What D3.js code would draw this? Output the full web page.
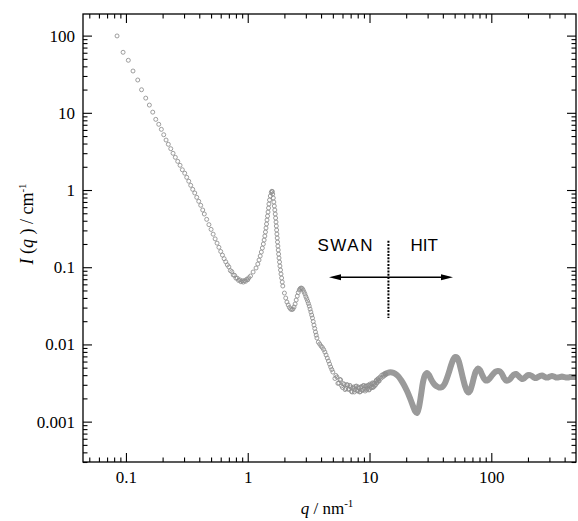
<!DOCTYPE html>
<html>
<head>
<meta charset="utf-8">
<script src="https://cdnjs.cloudflare.com/ajax/libs/d3/7.8.5/d3.min.js"></script>
<style>
  body { margin: 0; background: #fff; }
  svg { display: block; }
</style>
</head>
<body>
<div id="chart"></div>
<script>

// SWAN data (open circles), q in nm^-1, I in cm^-1
const qSwan = [
  // power-law descent
  0.0845, 0.0947, 0.1046, 0.1143, 0.125, 0.1343, 0.1454, 0.1557, 0.166, 0.1757,
  0.1859, 0.1953, 0.2043, 0.2135, 0.2229, 0.2333, 0.2436, 0.2544, 0.2662, 0.2781,
  0.2904, 0.3039, 0.3156, 0.3279, 0.3404, 0.3535, 0.3672, 0.3814, 0.3961, 0.4112, 0.427,
  // down into the minimum near q = 0.9
  0.44, 0.46, 0.48, 0.50, 0.52, 0.54, 0.56, 0.58, 0.60, 0.62, 0.64, 0.66, 0.68, 0.70, 0.72,
  0.74, 0.76, 0.78, 0.80, 0.82, 0.84, 0.86, 0.88, 0.90, 0.92, 0.94, 0.96, 0.98, 1.00, 1.02,
  // first peak, rising side
  1.054, 1.107, 1.170, 1.210, 1.238, 1.266, 1.293, 1.318, 1.343, 1.364, 1.382, 1.398,
  1.413, 1.427, 1.440, 1.454, 1.468, 1.482, 1.493, 1.510, 1.533, 1.562, 1.578, 1.589,
  // first peak, falling side
  1.604, 1.622, 1.638, 1.653, 1.669, 1.682, 1.694, 1.707, 1.717, 1.727, 1.736, 1.746,
  1.756, 1.769, 1.780, 1.793, 1.807, 1.824, 1.838, 1.859, 1.876, 1.898, 1.920, 1.941,
  2.001, 2.051, 2.098, 2.150, 2.200, 2.250, 2.302,
  // second peak and descent
  2.35, 2.40, 2.45, 2.50, 2.55, 2.60, 2.65, 2.70, 2.75, 2.80, 2.85, 2.90, 2.95, 3.00,
  3.05, 3.10, 3.15, 3.20, 3.25, 3.30, 3.35, 3.40, 3.45, 3.50, 3.55, 3.60, 3.65, 3.70,
  3.80, 3.90, 4.00, 4.10, 4.20, 4.30, 4.40, 4.50, 4.60, 4.70, 4.80, 4.90,
  // noisy plateau
  5.0, 5.2, 5.4, 5.6, 5.8, 6.0, 6.2, 6.4, 6.6, 6.8, 7.0, 7.2, 7.4, 7.6, 7.8, 8.0,
  8.2, 8.4, 8.6, 8.8, 9.0, 9.2, 9.4, 9.6, 9.8, 10.0, 10.2, 10.4, 10.6, 10.8, 11.0,
  11.2, 11.4, 11.6, 11.8, 12.0, 12.2, 12.4, 12.6, 12.8, 13.0, 13.2, 13.4, 13.6,
  5.3, 5.5, 5.7, 5.9, 6.1, 6.3, 6.5, 6.7, 6.9, 7.1, 7.3, 7.5, 7.7, 7.9, 8.1, 8.3, 8.5,
  8.7, 8.9, 9.1, 9.3, 9.5, 9.7, 9.9, 10.1, 10.3, 10.5, 10.7, 10.9, 11.1, 11.3, 11.5, 11.7, 11.9
];
const iSwan = [
  99, 60.8, 47.9, 34.8, 26.6, 19.9, 15.5, 12.6, 10.2, 8.23,
  7.10, 6.11, 5.20, 4.44, 3.91, 3.43, 2.99, 2.65, 2.35, 2.09,
  1.83, 1.65, 1.46, 1.30, 1.15, 1.02, 0.915, 0.804, 0.714, 0.634, 0.551,
  0.489, 0.417, 0.356, 0.309, 0.268, 0.233, 0.205, 0.181, 0.160, 0.1435, 0.129, 0.1175, 0.1074, 0.1010, 0.0905,
  0.0875, 0.0795, 0.0785, 0.0722, 0.0722, 0.0675, 0.0686, 0.0648, 0.0668, 0.0642, 0.0672, 0.0658, 0.0698, 0.0688, 0.0730,
  0.0769, 0.0867, 0.0977, 0.1100, 0.1240, 0.1397, 0.1573, 0.1772, 0.1997, 0.2251, 0.2535, 0.2858,
  0.3220, 0.3628, 0.4089, 0.4605, 0.5188, 0.5845, 0.6588, 0.7422, 0.8363, 0.9282, 0.962, 0.957,
  0.887, 0.788, 0.699, 0.6205, 0.551, 0.489, 0.434, 0.385, 0.342, 0.303, 0.269, 0.239,
  0.212, 0.188, 0.167, 0.148, 0.1316, 0.1168, 0.1036, 0.0920, 0.0817, 0.0725, 0.0643, 0.0571,
  0.0463, 0.0399, 0.0354, 0.0324, 0.0301, 0.0287, 0.0283,
  0.0287, 0.0305, 0.0334, 0.0376, 0.0423, 0.0470, 0.0507, 0.0530, 0.0538, 0.0530, 0.0507, 0.0477, 0.0450, 0.0417,
  0.0391, 0.0365, 0.0339, 0.0314, 0.0287, 0.0263, 0.0240, 0.0220, 0.0198, 0.0178, 0.0161, 0.0145, 0.0132, 0.0121,
  0.0107, 0.0101, 0.00953, 0.00912, 0.00859, 0.00797, 0.00729, 0.00666, 0.00610, 0.00557, 0.00510, 0.00473,
  0.00439, 0.00362, 0.00378, 0.00316, 0.00346, 0.00277, 0.00302, 0.00268, 0.00298, 0.00264, 0.00281, 0.00242, 0.00281, 0.00260, 0.00289, 0.00249,
  0.00272, 0.00245, 0.00285, 0.00260, 0.00291, 0.00249, 0.00287, 0.00269, 0.00298, 0.00263, 0.00294, 0.00277, 0.00318, 0.00283, 0.00316,
  0.00302, 0.00346, 0.00326, 0.00362, 0.00336, 0.00378, 0.00364, 0.00399, 0.00378, 0.00410, 0.00391, 0.00420, 0.00406,
  0.00396, 0.00313, 0.00353, 0.00291, 0.00311, 0.00260, 0.00302, 0.00262, 0.00295, 0.00247, 0.00272, 0.00242, 0.00285, 0.00253, 0.00281, 0.00242, 0.00278,
  0.00253, 0.00294, 0.00263, 0.00290, 0.00257, 0.00292, 0.00257, 0.00307, 0.00275, 0.00310, 0.00277, 0.00313, 0.00293, 0.00336, 0.00316, 0.00351, 0.00341
];

// HIT data (dense, reads as a thick grey band)
const qHit = [
  13.66, 14.46, 15.30, 16.19, 17.14, 18.14, 19.20, 20.32, 21.50, 22.76,
  23.64, 24.55, 25.49, 26.48, 27.50, 28.56, 29.66, 30.80, 31.98, 33.21,
  34.49, 35.83, 37.21, 38.64, 40.13, 41.68, 43.28, 44.95, 46.68, 48.48,
  50.35, 52.29, 54.30, 56.39, 58.57, 60.82, 63.17, 65.0, 66.87, 69.43,
  72.11, 74.89, 77.77, 80.77, 83.88, 87.11, 90.47, 93.96, 97.56, 101.3,
  105.2, 109.3, 113.5, 117.9, 122.4, 127.2, 132.0, 137.1, 142.4, 147.9,
  153.6, 159.5, 165.7, 172.0, 178.7, 185.6, 192.7, 200.1, 207.8, 215.9,
  224.2, 232.8, 241.8, 251.1, 260.8, 270.8, 281.2, 292.1, 303.3, 315.0,
  327.2, 339.7, 352.8, 366.4, 380.6, 395.3, 410.5, 426.3, 442.7, 459.9,
  477.5, 493.2
];
const iHit = [
  0.00420, 0.00433, 0.00433, 0.00420, 0.00390, 0.00346, 0.00298, 0.00249, 0.00202, 0.00159,
  0.00137, 0.00129, 0.00155, 0.00221, 0.00326, 0.00401, 0.00426, 0.00401, 0.00356, 0.00321,
  0.00298, 0.00285, 0.00277, 0.00277, 0.00289, 0.00316, 0.00367, 0.00439, 0.00533, 0.00628,
  0.00687, 0.00677, 0.00592, 0.00466, 0.00362, 0.00289, 0.00249, 0.00238, 0.00249, 0.00298,
  0.00378, 0.00452, 0.00487, 0.00466, 0.00407, 0.00362, 0.00341, 0.00346, 0.00367, 0.00396,
  0.00426, 0.00446, 0.00452, 0.00446, 0.00414, 0.00367, 0.00341, 0.00341, 0.00356, 0.00384,
  0.00407, 0.00414, 0.00396, 0.00373, 0.00356, 0.00362, 0.00384, 0.00401, 0.00401, 0.00390,
  0.00373, 0.00367, 0.00378, 0.00390, 0.00396, 0.00384, 0.00373, 0.00373, 0.00384, 0.00390,
  0.00384, 0.00373, 0.00373, 0.00378, 0.00384, 0.00378, 0.00373, 0.00373, 0.00378, 0.00378,
  0.00378, 0.00378
];

const xTickValues = [0.1, 1, 10, 100];
const xTickLabels = ["0.1", "1", "10", "100"];
const yTickValues = [0.001, 0.01, 0.1, 1, 10, 100];
const yTickLabels = ["0.001", "0.01", "0.1", "1", "10", "100"];

// annotation (data units)
const dividerQ = 14.3;
const dividerI = [0.22, 0.022];
const arrowQ = [4.65, 48.5];
const arrowI = 0.074;
const labelI = 0.162;


const W = 578, H = 521;
const margin = {top: 14, right: 2, bottom: 59, left: 83};
const serif = '"Liberation Serif", "Times New Roman", Times, serif';
const sans = '"Liberation Sans", Arial, Helvetica, sans-serif';

const svg = d3.select("#chart").append("svg")
    .attr("width", W)
    .attr("height", H);

svg.append("rect").attr("width", W).attr("height", H).attr("fill", "#fff");

const x = d3.scaleLog().domain([0.0444, 496]).range([margin.left, W - margin.right]);
const y = d3.scaleLog().domain([0.0003, 190.5]).range([H - margin.bottom, margin.top]);

const plotTop = margin.top, plotBottom = H - margin.bottom;
const plotLeft = margin.left, plotRight = W - margin.right;

svg.append("clipPath").attr("id", "plotclip")
  .append("rect")
    .attr("x", plotLeft).attr("y", plotTop)
    .attr("width", plotRight - plotLeft)
    .attr("height", plotBottom - plotTop);

const plot = svg.append("g").attr("clip-path", "url(#plotclip)");

const swan = qSwan.map((q, i) => ({q: q, I: iSwan[i]}));
const hit = qHit.map((q, i) => ({q: q, I: iHit[i]}));

// HIT band
const line = d3.line()
    .x(d => x(d.q))
    .y(d => y(d.I))
    .curve(d3.curveCatmullRom.alpha(0.5));

plot.append("path")
    .datum(hit)
    .attr("d", line)
    .attr("fill", "none")
    .attr("stroke", "#9a9a9a")
    .attr("stroke-width", 6)
    .attr("stroke-linejoin", "round")
    .attr("stroke-linecap", "round");

plot.append("g")
  .selectAll("circle")
  .data(hit)
  .enter()
  .append("circle")
    .attr("cx", d => x(d.q))
    .attr("cy", d => y(d.I))
    .attr("r", 2)
    .attr("fill", "none")
    .attr("stroke", "#9a9a9a")
    .attr("stroke-width", 0.9);

// SWAN circles
plot.append("g")
  .selectAll("circle")
  .data(swan)
  .enter()
  .append("circle")
    .attr("cx", d => x(d.q))
    .attr("cy", d => y(d.I))
    .attr("r", 2)
    .attr("fill", "none")
    .attr("stroke", "#8c8c8c")
    .attr("stroke-width", 0.85);


//////////////////////
//// axes
//////////////////////

const isDecade = v => Math.abs(Math.log10(v) - Math.round(Math.log10(v))) < 1e-6;
const xMinor = x.ticks().filter(v => !isDecade(v));
const yMinor = y.ticks().filter(v => !isDecade(v));

function styleAxis(g) {
    g.select(".domain").remove();
    g.attr("font-family", serif).attr("font-size", 17);
    g.selectAll(".tick line").attr("stroke", "#000").attr("stroke-width", 1.1);
    g.selectAll(".tick text").attr("fill", "#000");
}

// bottom
svg.append("g").attr("transform", `translate(0,${plotBottom})`)
    .call(d3.axisBottom(x).tickValues(xTickValues)
        .tickFormat(d => xTickLabels[xTickValues.indexOf(d)])
        .tickSizeInner(-9).tickSizeOuter(0).tickPadding(9))
    .call(styleAxis);
svg.append("g").attr("transform", `translate(0,${plotBottom})`)
    .call(d3.axisBottom(x).tickValues(xMinor).tickFormat("").tickSizeInner(-4.5).tickSizeOuter(0))
    .call(styleAxis);

// top (mirror)
svg.append("g").attr("transform", `translate(0,${plotTop})`)
    .call(d3.axisTop(x).tickValues(xTickValues).tickFormat("").tickSizeInner(-9).tickSizeOuter(0))
    .call(styleAxis);
svg.append("g").attr("transform", `translate(0,${plotTop})`)
    .call(d3.axisTop(x).tickValues(xMinor).tickFormat("").tickSizeInner(-4.5).tickSizeOuter(0))
    .call(styleAxis);

// left
svg.append("g").attr("transform", `translate(${plotLeft},0)`)
    .call(d3.axisLeft(y).tickValues(yTickValues)
        .tickFormat(d => yTickLabels[yTickValues.indexOf(d)])
        .tickSizeInner(-9).tickSizeOuter(0).tickPadding(8))
    .call(styleAxis);
svg.append("g").attr("transform", `translate(${plotLeft},0)`)
    .call(d3.axisLeft(y).tickValues(yMinor).tickFormat("").tickSizeInner(-4.5).tickSizeOuter(0))
    .call(styleAxis);

// right (mirror)
svg.append("g").attr("transform", `translate(${plotRight},0)`)
    .call(d3.axisRight(y).tickValues(yTickValues).tickFormat("").tickSizeInner(-9).tickSizeOuter(0))
    .call(styleAxis);
svg.append("g").attr("transform", `translate(${plotRight},0)`)
    .call(d3.axisRight(y).tickValues(yMinor).tickFormat("").tickSizeInner(-4.5).tickSizeOuter(0))
    .call(styleAxis);

// frame
svg.append("rect")
    .attr("x", plotLeft).attr("y", plotTop)
    .attr("width", plotRight - plotLeft).attr("height", plotBottom - plotTop)
    .attr("fill", "none")
    .attr("stroke", "#000")
    .attr("stroke-width", 1.3);


//////////////////////
//// titles
//////////////////////

const xt = svg.append("text")
    .attr("x", 327).attr("y", 514)
    .attr("text-anchor", "middle")
    .attr("font-family", serif).attr("font-size", 17);
xt.append("tspan").attr("font-style", "italic").text("q");
xt.append("tspan").text(" / nm");
xt.append("tspan").attr("font-size", 11).attr("dy", -7).text("-1");

const yt = svg.append("text")
    .attr("transform", "translate(33,224) rotate(-90)")
    .attr("text-anchor", "middle")
    .attr("font-family", serif).attr("font-size", 18);
yt.append("tspan").attr("font-style", "italic").text("I");
yt.append("tspan").text(" (");
yt.append("tspan").attr("font-style", "italic").text("q");
yt.append("tspan").text(" ) / cm");
yt.append("tspan").attr("font-size", 11).attr("dy", -7).text("-1");


//////////////////////
//// SWAN / HIT annotation
//////////////////////

const dx = x(dividerQ);
svg.append("line")
    .attr("x1", dx).attr("x2", dx)
    .attr("y1", y(dividerI[0])).attr("y2", y(dividerI[1]))
    .attr("stroke", "#000")
    .attr("stroke-width", 2)
    .attr("stroke-dasharray", "2,1.3");

const ax0 = x(arrowQ[0]), ax1 = x(arrowQ[1]), ay = y(arrowI);
svg.append("line")
    .attr("x1", ax0 + 6).attr("x2", ax1 - 6)
    .attr("y1", ay).attr("y2", ay)
    .attr("stroke", "#000")
    .attr("stroke-width", 1.5);
svg.append("path")
    .attr("d", `M${ax0},${ay}L${ax0 + 12},${ay - 3}L${ax0 + 12},${ay + 3}Z`)
    .attr("fill", "#000");
svg.append("path")
    .attr("d", `M${ax1},${ay}L${ax1 - 12},${ay - 3}L${ax1 - 12},${ay + 3}Z`)
    .attr("fill", "#000");

svg.append("text")
    .attr("x", dx - 16).attr("y", y(labelI))
    .attr("text-anchor", "end")
    .attr("font-family", sans).attr("font-size", 17)
    .attr("textLength", 55).attr("lengthAdjust", "spacing")
    .text("SWAN");
svg.append("text")
    .attr("x", dx + 22).attr("y", y(labelI))
    .attr("font-family", sans).attr("font-size", 17)
    .text("HIT");

</script>
</body>
</html>
